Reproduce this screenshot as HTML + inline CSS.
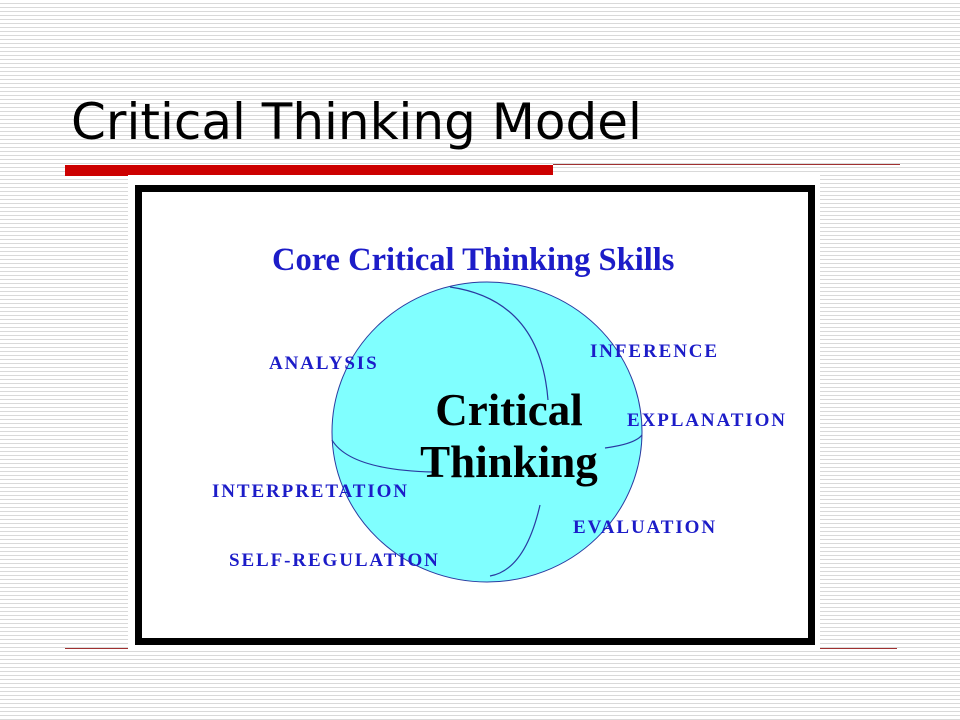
<!DOCTYPE html>
<html><head><style>
html,body{margin:0;padding:0;}
body{width:960px;height:720px;position:relative;overflow:hidden;
background:repeating-linear-gradient(to bottom,#fff 0px,#fff 3px,#d9d9d9 3px,#d9d9d9 4px);}
.t{position:absolute;white-space:nowrap;}
.b{font-family:"Liberation Serif",serif;font-weight:bold;color:#1c1cc8;font-size:19px;letter-spacing:1.9px;}
</style></head><body>
<div class="t" style="left:71px;top:93px;font-family:'DejaVu Sans',sans-serif;font-size:50px;color:#000;">Critical Thinking Model</div>
<div style="position:absolute;left:65px;top:165px;width:488px;height:11px;background:#cc0000;"></div>
<div style="position:absolute;left:553px;top:164px;width:347px;height:1px;background:#a03030;"></div>
<div style="position:absolute;left:65px;top:648px;width:63px;height:1px;background:#a03030;"></div>
<div style="position:absolute;left:820px;top:648px;width:77px;height:1px;background:#a03030;"></div>
<div style="position:absolute;left:128px;top:175px;width:692px;height:473px;background:#fff;"></div>
<div style="position:absolute;left:135px;top:185px;width:666px;height:446px;border:7px solid #000;"></div>
<svg style="position:absolute;left:0;top:0" width="960" height="720">
<ellipse cx="487" cy="432" rx="155" ry="150" fill="#80ffff" stroke="#2a3aa0" stroke-width="1"/>
<g fill="none" stroke="#2a3aa0" stroke-width="1.2">
<path d="M450 287 Q540 300 548 400"/>
<path d="M332 440 Q350 470 433 472"/>
<path d="M605 448 Q635 444 642 435"/>
<path d="M540 505 Q525 570 490 576"/>
</g>
</svg>
<div class="t" style="left:272px;top:242px;font-family:'Liberation Serif',serif;font-weight:bold;color:#1c1cc8;font-size:32.5px;">Core Critical Thinking Skills</div>
<div class="t b" style="left:269px;top:353px;">ANALYSIS</div>
<div class="t b" style="left:590px;top:341px;">INFERENCE</div>
<div class="t b" style="left:627px;top:410px;">EXPLANATION</div>
<div class="t b" style="left:212px;top:481px;">INTERPRETATION</div>
<div class="t b" style="left:573px;top:517px;">EVALUATION</div>
<div class="t b" style="left:229px;top:550px;">SELF-REGULATION</div>
<div class="t" style="left:400px;top:384px;width:218px;text-align:center;font-family:'Liberation Serif',serif;font-weight:bold;font-size:45px;line-height:52px;color:#000;">Critical<br>Thinking</div>
</body></html>
